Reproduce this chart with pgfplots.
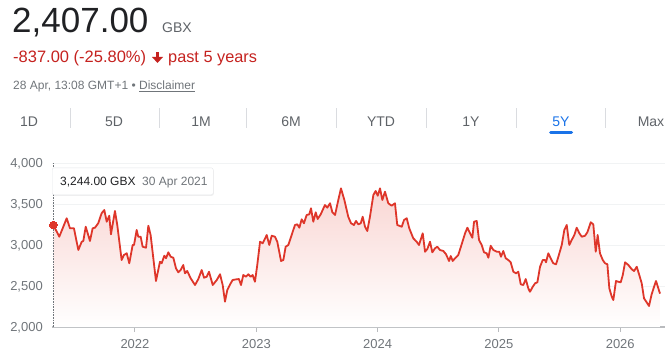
\documentclass[border=0pt]{standalone}
\usepackage{pgfplots}
\pgfplotsset{compat=1.18}
\usepackage{pgfplotstable}
\usepackage{fontspec}
\setmainfont{Liberation Sans}
\usetikzlibrary{shadows}
\definecolor{lred}{RGB}{222,54,42}
\definecolor{tred}{RGB}{197,34,31}
\definecolor{dark}{RGB}{32,33,36}
\definecolor{mgray}{RGB}{95,99,104}
\definecolor{lgray}{RGB}{112,117,122}
\definecolor{sepgray}{RGB}{218,220,224}
\definecolor{axisgray}{RGB}{185,187,190}
\definecolor{gridgray}{RGB}{241,243,244}
\definecolor{gblue}{RGB}{26,115,232}
\definecolor{fillred}{RGB}{249,214,211}

\pgfplotstableread{
x y
2021.327 3244
2021.376 3101
2021.404 3204
2021.437 3326
2021.464 3204
2021.497 3204
2021.533 2939
2021.561 3040
2021.574 3049
2021.594 3223
2021.629 3049
2021.651 3204
2021.670 3211
2021.697 3265
2021.725 3387
2021.747 3427
2021.767 3284
2021.788 3357
2021.802 3130
2021.835 3415
2021.854 3244
2021.890 2817
2021.909 2878
2021.932 2899
2021.953 2777
2021.981 3000
2021.992 3000
2022.014 3183
2022.027 3101
2022.047 3101
2022.063 2979
2022.091 2967
2022.110 3235
2022.129 3122
2022.173 2561
2022.206 2796
2022.220 2777
2022.242 2870
2022.256 2838
2022.275 2911
2022.294 2857
2022.316 2845
2022.338 2716
2022.357 2667
2022.377 2695
2022.398 2756
2022.412 2655
2022.431 2683
2022.459 2594
2022.495 2512
2022.522 2585
2022.550 2695
2022.569 2601
2022.591 2613
2022.610 2674
2022.641 2512
2022.674 2573
2022.701 2643
2022.723 2512
2022.742 2309
2022.761 2451
2022.789 2533
2022.805 2573
2022.838 2582
2022.857 2585
2022.874 2512
2022.893 2634
2022.915 2613
2022.934 2643
2022.954 2613
2022.970 2634
2022.989 2552
2023.008 2756
2023.031 3040
2023.053 3021
2023.086 3122
2023.107 3000
2023.127 3113
2023.154 3101
2023.173 3040
2023.204 2805
2023.223 2817
2023.242 2979
2023.264 3000
2023.284 3089
2023.305 3183
2023.319 3244
2023.338 3252
2023.355 3211
2023.374 3313
2023.393 3265
2023.415 3366
2023.437 3374
2023.451 3448
2023.470 3284
2023.490 3399
2023.506 3317
2023.531 3374
2023.566 3488
2023.585 3455
2023.608 3509
2023.627 3399
2023.649 3366
2023.676 3549
2023.698 3691
2023.726 3549
2023.758 3345
2023.781 3265
2023.805 3244
2023.822 3293
2023.841 3252
2023.861 3265
2023.877 3345
2023.896 3223
2023.915 3171
2023.937 3345
2023.965 3610
2023.984 3659
2024.001 3601
2024.020 3691
2024.039 3549
2024.061 3650
2024.088 3509
2024.116 3479
2024.143 3509
2024.162 3244
2024.199 3223
2024.218 3305
2024.240 3326
2024.261 3204
2024.294 3082
2024.322 3040
2024.341 3000
2024.372 3143
2024.391 2918
2024.410 2951
2024.432 3040
2024.451 2911
2024.473 2960
2024.492 2979
2024.514 2939
2024.542 2927
2024.564 2887
2024.589 2805
2024.603 2866
2024.619 2805
2024.638 2838
2024.665 2878
2024.693 3009
2024.721 3143
2024.740 3211
2024.762 3143
2024.781 3089
2024.795 3284
2024.817 3293
2024.836 3061
2024.858 3000
2024.877 2911
2024.899 2899
2024.913 2845
2024.932 2991
2024.954 2939
2024.982 2918
2025.003 2918
2025.017 2857
2025.036 2927
2025.056 2838
2025.077 2817
2025.097 2789
2025.119 2674
2025.141 2655
2025.160 2674
2025.180 2521
2025.201 2512
2025.221 2585
2025.242 2472
2025.256 2430
2025.279 2491
2025.298 2533
2025.317 2545
2025.339 2735
2025.361 2817
2025.380 2817
2025.388 2789
2025.407 2899
2025.427 2838
2025.448 2777
2025.471 2765
2025.490 2857
2025.518 3000
2025.539 3183
2025.559 3244
2025.580 3000
2025.600 3061
2025.622 3122
2025.641 3211
2025.663 3143
2025.683 3101
2025.710 3113
2025.729 3155
2025.757 3277
2025.778 3252
2025.798 2918
2025.814 3122
2025.833 2899
2025.856 2817
2025.875 2777
2025.894 2765
2025.910 2472
2025.930 2370
2025.943 2329
2025.965 2561
2025.984 2552
2026.004 2545
2026.021 2634
2026.040 2789
2026.067 2756
2026.095 2704
2026.114 2683
2026.136 2735
2026.157 2634
2026.177 2533
2026.196 2350
2026.218 2301
2026.237 2256
2026.259 2399
2026.279 2491
2026.295 2561
2026.314 2472
2026.328 2407
}\pricedata

\begin{document}
\begin{tikzpicture}[x=1pt,y=1pt]
\path[use as bounding box] (0,0) rectangle (672,354);
% header
\node[anchor=base west, inner sep=0pt, text=dark, font=\fontsize{35}{40}\selectfont] at (12,321) {2,407.00};
\node[anchor=base west, inner sep=0pt, text=mgray, font=\fontsize{14}{16}\selectfont] at (162,321) {GBX};
\node[anchor=base west, inner sep=0pt, text=tred, font=\fontsize{16.5}{18}\selectfont] at (13,291) {-837.00 (-25.80\%)};
\fill[tred] (156,301.5) rectangle (159,296);
\fill[tred] (152,297) -- (163,297) -- (157.5,291) -- cycle;
\node[anchor=base west, inner sep=0pt, text=tred, font=\fontsize{16.3}{18}\selectfont] at (168,291) {past 5 years};
\node[anchor=base west, inner sep=0pt, text=lgray, font=\fontsize{12}{14}\selectfont] at (13,264) {28 Apr, 13:08 GMT+1 • \underline{Disclaimer}};
% tabs
\foreach \t/\xx in {1D/29, 5D/114, 1M/201, 6M/291, YTD/381, 1Y/471, Max/651}
  \node[anchor=base, inner sep=0pt, text=mgray, font=\fontsize{14}{16}\selectfont] at (\xx,227.3) {\t};
\node[anchor=base, inner sep=0pt, text=gblue, font=\fontsize{14}{16}\selectfont] at (561,227.3) {5Y};
\foreach \xx in {70,159,246,336,426,516,605}
  \draw[sepgray, line width=0.8pt] (\xx,226) -- (\xx,246);
\draw[gblue, line width=3pt, line cap=round] (550.5,221.3) -- (571.5,221.3);
% chart
\begin{axis}[
  at={(52pt,27pt)}, anchor=south west, scale only axis,
  width=613pt, height=164pt,
  xmin=2021.316, xmax=2026.369, ymin=2000, ymax=4000,
  axis x line=bottom, axis y line=left,
  x axis line style={-, draw=axisgray, line width=1.5pt},
  y axis line style={draw=none},
  xtick={2022,2023,2024,2025,2026},
  xticklabels={2022,2023,2024,2025,2026},
  ytick={2000,2500,3000,3500,4000},
  yticklabels={{2,000},{2,500},{3,000},{3,500},{4,000}},
  tick align=outside, major tick length=5pt,
  xtick style={draw=axisgray, line width=1pt},
  ytick style={draw=none},
  ymajorgrids, major grid style={draw=gridgray, line width=0.8pt},
  ticklabel style={font=\fontsize{13}{15}\selectfont, text=lgray},
  yticklabel style={anchor=base east, inner sep=0pt, xshift=-4pt, yshift=-4.6pt},
  xticklabel style={anchor=base, inner sep=0pt, yshift=-16pt},
]
\addplot[draw=none, top color=fillred, bottom color=white] table[x=x,y=y] {\pricedata} |- (axis cs:2021.327,2000) -- cycle;
\draw[lgray, densely dotted, line width=0.6pt] (axis cs:2021.327,2000) -- (axis cs:2021.327,4000);
\addplot[lred, line width=1.8pt, line join=round, mark=none] table[x=x,y=y] {\pricedata};
\addplot[color=lred, only marks, mark=*, mark size=3.8pt, mark options={fill=lred, draw=lred, line width=0pt}] coordinates {(2021.327,3244)};
\end{axis}
% tooltip
\node[draw=sepgray!70, fill=white, rounded corners=2pt, drop shadow={opacity=0.12, shadow xshift=0.6pt, shadow yshift=-1pt}, minimum width=161pt, minimum height=27pt, anchor=south west, inner sep=0pt] at (52,159) {};
\node[anchor=base west, inner sep=0pt, text=dark, font=\fontsize{12}{14}\selectfont] at (60,168) {3,244.00 GBX};
\node[anchor=base west, inner sep=0pt, text=lgray, font=\fontsize{12}{14}\selectfont] at (142,168) {30 Apr 2021};
\end{tikzpicture}
\end{document}
